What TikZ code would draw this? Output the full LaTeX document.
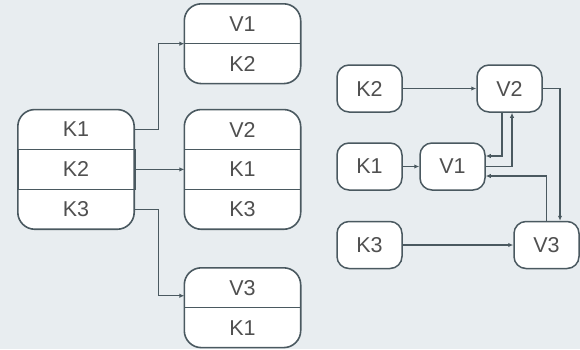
\documentclass[tikz,border=0pt]{standalone}
\usepackage{fontspec}
\setmainfont{Liberation Sans}
\usetikzlibrary{positioning, arrows.meta, backgrounds}
\definecolor{bgcol}{HTML}{E8EDF0}
\definecolor{linecol}{HTML}{4A5960}
\definecolor{txtcol}{HTML}{505050}
\tikzset{
x=1pt, y=-1pt, % one unit is one pixel of the picture, y runs downwards
every node/.style={font=\fontsize{21.5}{25}\selectfont, text=txtcol},
cell/.style={minimum width=116pt, minimum height=39.5pt, inner sep=0pt}, % one row of a record
frame/.style={draw=linecol, line width=1.6pt, fill=white, rounded corners=17pt}, % outline of a record
divider/.style={draw=linecol, line width=1.5pt},
item/.style={draw=linecol, line width=1.5pt, fill=white, rounded corners=12pt, minimum width=65pt, minimum height=47pt, inner sep=0pt},
link/.style={draw=linecol, line width=1.3pt, -{Latex[length=5pt,width=4.5pt]}}, % directed connector
}

\begin{document}
\begin{tikzpicture}
    \useasboundingbox (0,0) rectangle (580,349);

    % records on the left
    \node[cell] (k1) at (76,129.5) {K1};
    \node[cell, below=0pt of k1] (k2) {K2};
    \node[cell, below=0pt of k2] (k3) {K3};

    \node[cell] (v1) at (242.5,23.75) {V1};
    \node[cell, below=0pt of v1] (v1k2) {K2};

    \node[cell] (v2) at (242.5,129.5) {V2};
    \node[cell, below=0pt of v2] (v2k1) {K1};
    \node[cell, below=0pt of v2k1] (v2k3) {K3};

    \node[cell] (v3) at (242.5,287.75) {V3};
    \node[cell, below=0pt of v3] (v3k1) {K1};

    \begin{scope}[on background layer]
        \fill[bgcol] (0,0) rectangle (580,349);
        \draw[frame] (k1.north west) rectangle (k3.south east);
        \draw[frame] (v1.north west) rectangle (v1k2.south east);
        \draw[frame] (v2.north west) rectangle (v2k3.south east);
        \draw[frame] (v3.north west) rectangle (v3k1.south east);
    \end{scope}

    \draw[divider] (k2.north west) rectangle ([xshift=1.5pt]k2.south east);
    \draw[divider] (v1.south west) -- (v1.south east);
    \draw[divider] (v2.south west) -- (v2.south east)
        (v2k1.south west) -- (v2k1.south east);
    \draw[divider] (v3.south west) -- (v3.south east);

    \draw[link] (k1.east) -- ++(24,0) |- (v1.south west);
    \draw[link] ([xshift=1.5pt]k2.east) -- (v2k1.west);
    \draw[link] (k3.east) -- ++(24,0) |- ([yshift=-8pt]v3.west);

    % graph on the right
    \node[item] (rk2) at (369.5,88.5) {K2};
    \node[item] (rv2) at (509.5,88.5) {V2};
    \node[item] (rk1) at (369.5,166.5) {K1};
    \node[item] (rv1) at (452.5,166.5) {V1};
    \node[item] (rk3) at (369.5,245) {K3};
    \node[item] (rv3) at (546.5,245) {V3};

    \draw[link] (rk2) -- (rv2);
    \draw[link] (rk1) -- (rv1);
    \draw[link] (rk3) -- (rv3);
    \draw[link] (rv2.east) -| ([xshift=13.5pt]rv3.north);
    \draw[link] ([xshift=-7.5pt]rv2.south) |- ([yshift=10.5pt]rv1.east);
    \draw[link] (rv1.east) -| ([xshift=2.5pt]rv2.south);
    \draw[link] (rv3.north) |- ([yshift=-9.5pt]rv1.east);
\end{tikzpicture}
\end{document}
